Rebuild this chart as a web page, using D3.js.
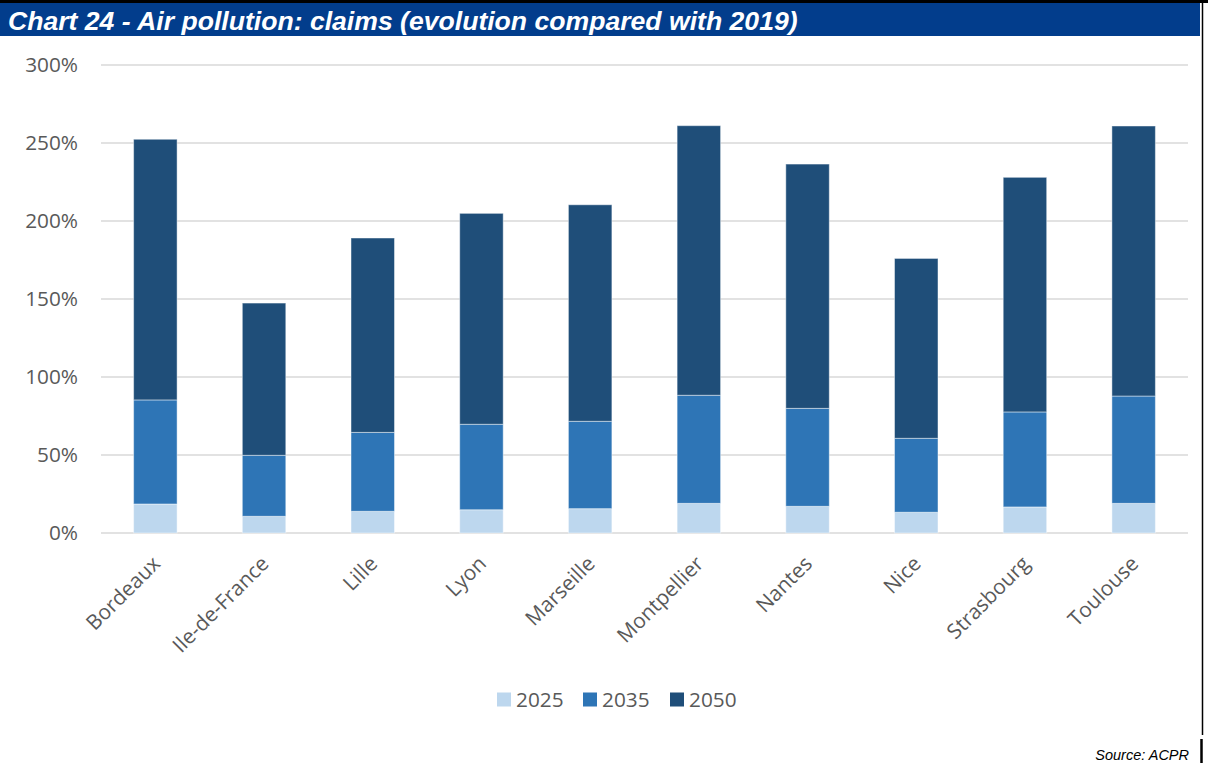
<!DOCTYPE html>
<html>
<head>
<meta charset="utf-8">
<script src="https://cdn.jsdelivr.net/npm/d3@7"></script>
<style>
  html, body { margin: 0; padding: 0; background: #fff; }
  svg { display: block; }
</style>
</head>
<body>
<svg id="chart" width="1208" height="763"></svg>
<script>
// ---- Data ----
const categories = ["Bordeaux", "Ile-de-France", "Lille", "Lyon", "Marseille",
                    "Montpellier", "Nantes", "Nice", "Strasbourg", "Toulouse"];
const seriesNames = ["2025", "2035", "2050"];
// segment values (percent), stacked
const values2025 = [18.6, 10.7, 13.9, 14.9, 15.6, 19.0, 17.1, 13.3, 16.7, 19.0];
const values2035 = [66.7, 39.1, 50.6, 54.8, 56.0, 69.3, 62.8, 47.4, 60.9, 68.8];
const values2050 = [167.1, 97.6, 124.6, 135.2, 138.8, 172.8, 156.6, 115.3, 150.4, 173.1];
const yTicks = [0, 50, 100, 150, 200, 250, 300];
const seriesColors = ["#BDD7EE", "#2E75B6", "#1F4E79"];
const titleText = "Chart 24 - Air pollution: claims (evolution compared with 2019)";
const sourceText = "Source: ACPR";

// ---- Build table ----
const table = categories.map((c, i) => ({
  city: c, "2025": values2025[i], "2035": values2035[i], "2050": values2050[i]
}));
const stacked = d3.stack().keys(seriesNames)(table);

const svg = d3.select("#chart");
const W = 1208, H = 763;
svg.append("rect").attr("width", W).attr("height", H).attr("fill", "#fff");

// Title bar
svg.append("rect").attr("x", 0).attr("y", 3).attr("width", 1200).attr("height", 33)
  .attr("fill", "#023D8C");
svg.append("text").attr("x", 8).attr("y", 30)
  .attr("fill", "#fff")
  .style("font-family", "'Liberation Sans', Arial, sans-serif")
  .style("font-weight", "bold").style("font-style", "italic")
  .style("font-size", "26.6px")
  .text(titleText);
// frame lines
svg.append("line").attr("x1", 0).attr("x2", W).attr("y1", 1.5).attr("y2", 1.5)
  .attr("stroke", "#000").attr("stroke-width", 3);
svg.append("line").attr("x1", 1202.5).attr("x2", 1202.5).attr("y1", 0).attr("y2", 735)
  .attr("stroke", "#000").attr("stroke-width", 1.5);
svg.append("line").attr("x1", 1201.5).attr("x2", 1201.5).attr("y1", 739).attr("y2", H)
  .attr("stroke", "#000").attr("stroke-width", 2.5);

// Scales
const x = d3.scaleBand().domain(categories).range([101, 1188])
  .paddingInner(0.6).paddingOuter(0.3);
const y = d3.scaleLinear().domain([0, 300]).range([533, 65]);

// Gridlines
svg.append("g").selectAll("line").data(yTicks).join("line")
  .attr("x1", 101).attr("x2", 1188)
  .attr("y1", d => y(d)).attr("y2", d => y(d))
  .attr("stroke", "#D9D9D9").attr("stroke-width", d => d === 0 ? 1.6 : 1.3);

// Y axis labels
const yAxis = d3.axisLeft(y).tickValues(yTicks).tickSize(0).tickPadding(0)
  .tickFormat(d => d + "%");
const gy = svg.append("g").attr("transform", "translate(78,0)").call(yAxis);
gy.select(".domain").remove();
gy.selectAll("text")
  .style("font-family", "'Open Sans', sans-serif").style("font-size", "20.8px")
  .attr("fill", "#595959");

// Bars
svg.append("g").selectAll("g").data(stacked).join("g")
  .attr("fill", (d, i) => seriesColors[i])
  .selectAll("rect").data(d => d).join("rect")
  .attr("x", d => x(d.data.city))
  .attr("width", x.bandwidth())
  .attr("y", d => y(d[1]))
  .attr("height", d => y(d[0]) - y(d[1]))
  .attr("stroke", "#ffffff").attr("stroke-opacity", 0.45).attr("stroke-width", 1);

// X axis labels
const xAxis = d3.axisBottom(x).tickSize(0).tickPadding(0);
const gx = svg.append("g").attr("transform", "translate(0,533)").call(xAxis);
gx.select(".domain").remove();
gx.selectAll("text")
  .style("font-family", "'Open Sans', sans-serif").style("font-size", "20.8px")
  .attr("fill", "#595959")
  .attr("text-anchor", "end")
  .attr("dy", null)
  .attr("y", 0)
  .attr("transform", "translate(6,32) rotate(-45)");

// Legend
const legendX = [497, 583, 670];
const lg = svg.append("g");
seriesNames.forEach((s, i) => {
  lg.append("rect").attr("x", legendX[i]).attr("y", 692.5).attr("width", 14).attr("height", 14)
    .attr("fill", seriesColors[i]);
  lg.append("text").attr("x", legendX[i] + 19).attr("y", 707)
    .style("font-family", "'Open Sans', sans-serif").style("font-size", "20.8px")
    .attr("fill", "#595959").text(s);
});

// Source
svg.append("text").attr("x", 1189).attr("y", 760).attr("text-anchor", "end")
  .style("font-family", "'Liberation Sans', Arial, sans-serif")
  .style("font-style", "italic").style("font-size", "14.5px")
  .attr("fill", "#000").text(sourceText);
</script>
</body>
</html>
